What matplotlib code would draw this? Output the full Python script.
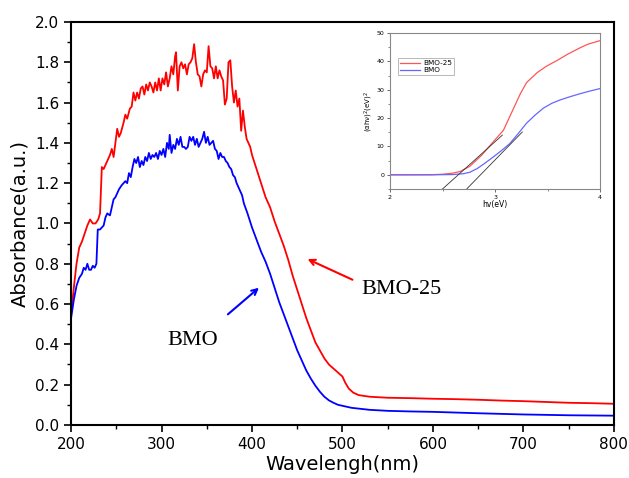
import matplotlib
matplotlib.use('Agg')
import matplotlib.pyplot as plt
from matplotlib.ticker import MultipleLocator

# 주 그래프 데이터 (UV-vis 흡광도)
wl_bmo25 = [200, 203, 206, 209, 212, 215, 218, 221, 224, 227, 230, 232, 234, 236, 238, 240,
            243, 245, 247, 249, 251, 253, 255, 258, 260, 262, 265, 267, 269, 271, 273, 275,
            277, 279, 281, 283, 285, 287, 289, 291, 293, 295, 297, 299, 301, 303, 305, 307,
            309, 311, 313, 315, 316, 318, 320, 322, 324, 326, 328, 330, 332, 334, 336, 338,
            340, 342, 344, 346, 348, 350, 352, 354, 356, 358, 360, 362, 364, 366, 368, 370,
            372, 374, 376, 378, 380, 382, 384, 386, 388, 390, 392, 394, 396, 398, 400, 405,
            410, 415, 420, 425, 430, 435, 440, 445, 450, 455, 460, 465, 470, 475, 480, 485,
            490, 495, 500, 503, 507, 512, 518, 530, 550, 575, 600, 625, 650, 675, 700, 725,
            750, 775, 800]
abs_bmo25 = [0.55, 0.68, 0.80, 0.88, 0.91, 0.95, 0.99, 1.02, 1.00, 1.00, 1.02, 1.05, 1.28, 1.27, 1.29, 1.31,
             1.34, 1.37, 1.33, 1.40, 1.47, 1.43, 1.45, 1.50, 1.54, 1.52, 1.57, 1.58, 1.65, 1.61, 1.65, 1.62,
             1.67, 1.68, 1.64, 1.69, 1.66, 1.70, 1.68, 1.65, 1.70, 1.66, 1.72, 1.66, 1.72, 1.69, 1.75, 1.68,
             1.72, 1.78, 1.74, 1.83, 1.85, 1.66, 1.78, 1.80, 1.77, 1.79, 1.74, 1.79, 1.80, 1.82, 1.89, 1.80,
             1.74, 1.73, 1.68, 1.74, 1.76, 1.75, 1.88, 1.78, 1.77, 1.72, 1.78, 1.72, 1.76, 1.73, 1.71, 1.59,
             1.62, 1.80, 1.81, 1.68, 1.60, 1.66, 1.58, 1.62, 1.46, 1.56, 1.48, 1.42, 1.40, 1.38, 1.34, 1.27,
             1.20, 1.13, 1.08, 1.01, 0.95, 0.89, 0.82, 0.74, 0.67, 0.60, 0.53, 0.47, 0.41, 0.37, 0.33, 0.30,
             0.28, 0.26, 0.24, 0.21, 0.18, 0.16, 0.148, 0.14, 0.135, 0.133, 0.13, 0.128, 0.125, 0.121, 0.118, 0.114,
             0.11, 0.108, 0.105]

wl_bmo = [200, 203, 206, 209, 212, 214, 216, 218, 220, 222, 224, 226, 228, 229.5, 232, 234,
          236, 238, 240, 243, 245, 247, 249, 251, 253, 256, 258, 260, 262, 264, 266, 268,
          270, 272, 274, 276, 278, 280, 282, 284, 286, 288, 290, 292, 294, 296, 298, 300,
          302, 304, 306, 308, 309, 311, 313, 315, 317, 319, 321, 323, 325, 327, 329, 331,
          333, 335, 337, 339, 341, 343, 345, 347, 349, 351, 353, 355, 357, 359, 361, 363,
          365, 367, 369, 371, 373, 375, 377, 379, 381, 383, 385, 387, 389, 391, 395, 400,
          405, 410, 415, 420, 425, 430, 435, 440, 445, 450, 455, 460, 465, 470, 475, 480,
          485, 490, 495, 500, 510, 520, 530, 550, 575, 600, 650, 700, 750, 800]
abs_bmo = [0.53, 0.62, 0.69, 0.73, 0.75, 0.78, 0.77, 0.80, 0.77, 0.77, 0.79, 0.78, 0.80, 0.97, 0.97, 0.98,
           0.99, 1.03, 1.05, 1.04, 1.08, 1.12, 1.13, 1.15, 1.17, 1.19, 1.20, 1.21, 1.20, 1.25, 1.23, 1.28,
           1.32, 1.30, 1.33, 1.28, 1.31, 1.29, 1.33, 1.31, 1.35, 1.32, 1.34, 1.33, 1.35, 1.32, 1.36, 1.34,
           1.37, 1.33, 1.40, 1.37, 1.44, 1.35, 1.39, 1.37, 1.42, 1.39, 1.43, 1.38, 1.38, 1.37, 1.38, 1.43,
           1.41, 1.43, 1.39, 1.42, 1.38, 1.40, 1.42, 1.455, 1.40, 1.43, 1.39, 1.40, 1.41, 1.37, 1.36, 1.32,
           1.35, 1.33, 1.33, 1.31, 1.30, 1.28, 1.27, 1.24, 1.23, 1.20, 1.18, 1.16, 1.14, 1.10, 1.05, 0.98,
           0.92, 0.86, 0.81, 0.75, 0.68, 0.61, 0.55, 0.49, 0.43, 0.37, 0.32, 0.27, 0.23, 0.195, 0.165, 0.14,
           0.122, 0.11, 0.10, 0.095, 0.085, 0.08, 0.075, 0.07, 0.067, 0.065, 0.058, 0.052, 0.048, 0.046]

# 인셋 (Tauc plot) 데이터
hv_bmo25 = [2.0, 2.2, 2.4, 2.5, 2.6, 2.67, 2.76, 2.87, 2.98, 3.08, 3.17, 3.24, 3.30, 3.40, 3.49, 3.60,
            3.69, 3.80, 3.88, 4.0]
tauc_bmo25 = [0.0, 0.0, 0.05, 0.2, 0.6, 1.2, 3.0, 6.8, 11.5, 15.7, 22.9, 28.5, 32.5, 36.0, 38.3, 40.5,
              42.5, 44.6, 46.0, 47.3]
hv_bmo = [2.0, 2.2, 2.4, 2.6, 2.7, 2.76, 2.83, 2.90, 2.98, 3.06, 3.14, 3.22, 3.30, 3.38, 3.46, 3.54,
          3.62, 3.72, 3.81, 3.90, 4.0]
tauc_bmo = [0.0, 0.0, 0.0, 0.1, 0.4, 0.9, 2.2, 4.0, 6.2, 8.5, 11.0, 14.5, 18.2, 21.0, 23.5, 25.2,
            26.4, 27.6, 28.6, 29.5, 30.4]

# 접선 (밴드갭 외삽)
tan_bmo25_x = [2.50, 3.07]
tan_bmo25_y = [-5, 14]
tan_bmo_x = [2.73, 3.26]
tan_bmo_y = [-5, 15.1]

fig = plt.figure(figsize=(6.29, 4.78), dpi=100)
ax = fig.add_axes([0.113, 0.111, 0.863, 0.843])

ax.plot(wl_bmo25, abs_bmo25, color='#ff0000', lw=1.3)
ax.plot(wl_bmo, abs_bmo, color='#0000ff', lw=1.3)

ax.set_xlim(200, 800)
ax.set_ylim(0, 2.0)
ax.xaxis.set_major_locator(MultipleLocator(100))
ax.xaxis.set_minor_locator(MultipleLocator(50))
ax.yaxis.set_major_locator(MultipleLocator(0.2))
ax.yaxis.set_minor_locator(MultipleLocator(0.1))
ax.yaxis.set_major_formatter(plt.FuncFormatter(lambda v, p: f'{v:.1f}'))
ax.tick_params(which='major', direction='out', length=5, width=1.2, labelsize=11)
ax.tick_params(which='minor', direction='out', length=3, width=1.0)
for s in ax.spines.values():
    s.set_linewidth(1.5)

ax.set_xlabel('Wavelengh(nm)', fontsize=14, labelpad=2)
ax.set_ylabel('Absorbance(a.u.)', fontsize=14, labelpad=4)

# 화살표 및 라벨
ax.annotate('', xy=(458.6, 0.829), xytext=(513.8, 0.715),
            arrowprops=dict(arrowstyle='->', color='#ff0000', lw=1.5))
ax.annotate('', xy=(410, 0.69), xytext=(371, 0.54),
            arrowprops=dict(arrowstyle='->', color='#0000ff', lw=1.5))
ax.text(565.7, 0.67, 'BMO-25', fontsize=16, family='Liberation Serif',
        ha='center', va='center')
ax.text(334.8, 0.42, 'BMO', fontsize=16, family='Liberation Serif',
        ha='center', va='center')

# 인셋
ins = fig.add_axes([0.620, 0.6046, 0.334, 0.3264])
ins.plot(hv_bmo25, tauc_bmo25, color='#ff5555', lw=0.9, label='BMO-25')
ins.plot(hv_bmo, tauc_bmo, color='#6666ff', lw=0.9, label='BMO')
ins.plot(tan_bmo25_x, tan_bmo25_y, color='#333333', lw=0.6)
ins.plot(tan_bmo_x, tan_bmo_y, color='#333333', lw=0.6)
ins.set_xlim(2, 4)
ins.set_ylim(-5, 50)
ins.xaxis.set_major_locator(MultipleLocator(1))
ins.xaxis.set_minor_locator(MultipleLocator(0.5))
ins.yaxis.set_major_locator(MultipleLocator(10))
ins.yaxis.set_minor_locator(MultipleLocator(5))
ins.tick_params(which='major', length=2.5, width=0.6, labelsize=4.5, pad=1.5, color='#555555')
ins.tick_params(which='minor', length=1.5, width=0.5, color='#555555')
for s in ins.spines.values():
    s.set_linewidth(0.8)
    s.set_color('#888888')
ins.set_xlabel('hv(eV)', fontsize=5.5, labelpad=0)
ins.set_ylabel(r'(αhν)$^2$(eV)$^2$', fontsize=5, labelpad=1)
leg = ins.legend(loc='upper left', bbox_to_anchor=(0.02, 0.86), fontsize=5.2,
                 frameon=True, fancybox=False, edgecolor='#999999',
                 handlelength=2.8, borderpad=0.25, labelspacing=0.1, handletextpad=0.5)
leg.get_frame().set_linewidth(0.6)

fig.savefig('out.png', dpi=100)
